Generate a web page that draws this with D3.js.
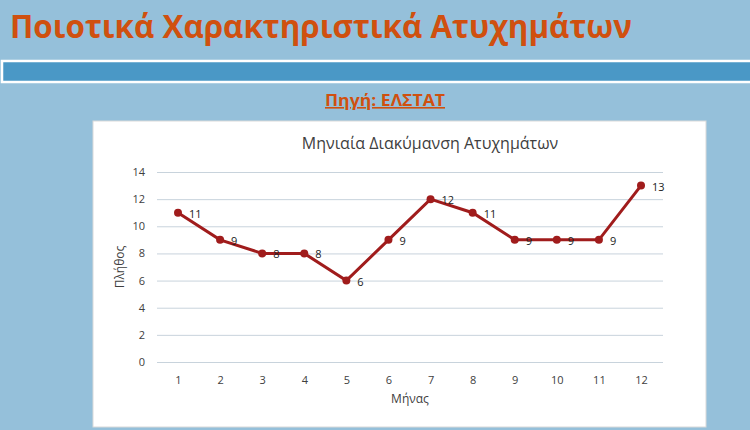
<!DOCTYPE html>
<html><head><meta charset="utf-8">
<script src="https://cdn.jsdelivr.net/npm/d3@7"></script>
<style>body{margin:0;background:#95c0da;}svg{display:block;}</style>
</head><body><div id="chart"></div>
<script>
var months = [1,2,3,4,5,6,7,8,9,10,11,12];
var counts = [11,9,8,8,6,9,12,11,9,9,9,13];
var yTicks = [0,2,4,6,8,10,12,14];

var w = 750, h = 430;
var svg = d3.select("#chart").append("svg").attr("width", w).attr("height", h);

svg.append("rect").attr("width", w).attr("height", h).attr("fill", "#95c0da");

svg.append("text").attr("x", 10).attr("y", 38)
  .attr("font-family", "Open Sans").attr("font-weight", "bold").attr("font-size", 33)
  .attr("fill", "#d0500f").attr("textLength", 622).attr("lengthAdjust", "spacingAndGlyphs")
  .text("Ποιοτικά Χαρακτηριστικά Ατυχημάτων");

svg.append("rect").attr("x", 2).attr("y", 61).attr("width", 760).attr("height", 21)
  .attr("fill", "#4a98c6").attr("stroke", "#ffffff").attr("stroke-width", 2.5);

svg.append("text").attr("x", 385).attr("y", 106).attr("text-anchor", "middle")
  .attr("font-family", "Open Sans").attr("font-weight", "bold").attr("font-size", 16)
  .attr("fill", "#d0500f").attr("text-decoration", "underline")
  .attr("textLength", 120).attr("lengthAdjust", "spacingAndGlyphs")
  .text("Πηγή: ΕΛΣΤΑΤ");

svg.append("rect").attr("x", 93).attr("y", 121).attr("width", 613).attr("height", 306)
  .attr("fill", "#ffffff").attr("stroke", "#d9d9d9");

var x = d3.scalePoint().domain(months).range([178, 641]);
var y = d3.scaleLinear().domain([0, 14]).range([362, 172]);

var yaxis = d3.axisLeft(y).tickValues(yTicks).tickSize(-(663 - 157)).tickPadding(12);
var gy = svg.append("g").attr("transform", "translate(157,0)").call(yaxis);
gy.select(".domain").remove();
gy.selectAll("line").attr("stroke", "#c8d3dc");
gy.selectAll("text").attr("font-family", "Open Sans").attr("font-size", 11).attr("fill", "#404040");

var xaxis = d3.axisBottom(x).tickSize(0).tickPadding(14);
var gx = svg.append("g").attr("transform", "translate(0,362)").call(xaxis);
gx.select(".domain").remove();
gx.selectAll("text").attr("font-family", "Open Sans").attr("font-size", 11).attr("fill", "#404040");

svg.append("text").attr("x", 430).attr("y", 149).attr("text-anchor", "middle")
  .attr("font-family", "Open Sans").attr("font-size", 16).attr("fill", "#404040")
  .text("Μηνιαία Διακύμανση Ατυχημάτων");
svg.append("text").attr("x", 410).attr("y", 403).attr("text-anchor", "middle")
  .attr("font-family", "Open Sans").attr("font-size", 12).attr("fill", "#404040").text("Μήνας");
svg.append("text").attr("transform", "translate(124,267) rotate(-90)").attr("text-anchor", "middle")
  .attr("font-family", "Open Sans").attr("font-size", 12).attr("fill", "#404040").text("Πλήθος");

var line = d3.line().x(function(d, i){ return x(months[i]); }).y(function(d){ return y(d); });
svg.append("path").datum(counts).attr("d", line).attr("fill", "none")
  .attr("stroke", "#a01c1c").attr("stroke-width", 3);
svg.selectAll("circle").data(counts).enter().append("circle")
  .attr("cx", function(d, i){ return x(months[i]); }).attr("cy", function(d){ return y(d); })
  .attr("r", 4).attr("fill", "#a01c1c");
svg.selectAll(".lbl").data(counts).enter().append("text").attr("class", "lbl")
  .attr("x", function(d, i){ return x(months[i]) + 11; }).attr("y", function(d){ return y(d) + 5; })
  .attr("font-family", "Open Sans").attr("font-size", 11).attr("fill", "#222")
  .text(function(d){ return d; });
</script></body></html>
